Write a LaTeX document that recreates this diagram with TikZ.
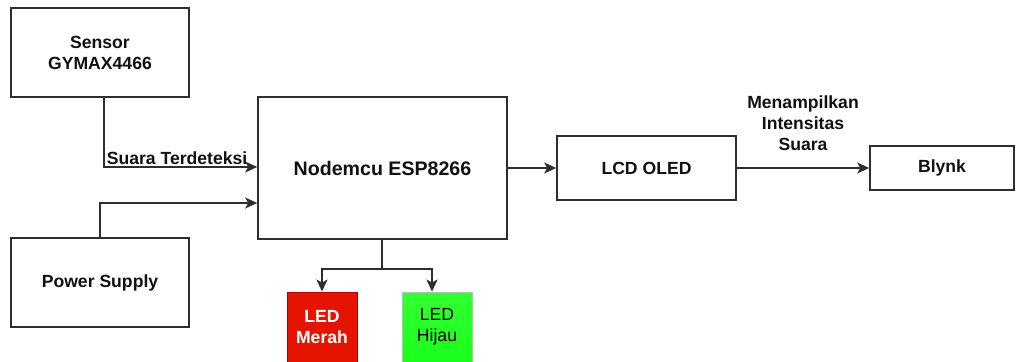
\documentclass[tikz,border=0pt]{standalone}
\usepackage{fontspec}
\setmainfont{Liberation Sans}
\usepackage{xcolor}
\usepackage{tikz}
\usetikzlibrary{positioning, arrows.meta, calc}
\definecolor{bdline}{HTML}{2E2E2E}
\definecolor{bdtext}{HTML}{111111}
\definecolor{ledred}{HTML}{E51400}
\definecolor{ledredrim}{HTML}{B20000}
\definecolor{ledgreen}{HTML}{1AFF1A}
\definecolor{ledgreentop}{HTML}{33FF33}
\definecolor{ledgreenrim}{HTML}{A8C8A8}

\begin{document}
\begin{tikzpicture}[x=1pt, y=-1pt,
  blockbox/.style={rectangle, draw=bdline, line width=1.6pt, fill=white,
                   inner sep=0pt, align=center, text=bdtext,
                   font=\fontsize{17.6}{21}\selectfont\bfseries},
  ledbox/.style={rectangle, line width=0.9pt, inner sep=0pt, align=center,
                 minimum width=70pt, minimum height=70pt,
                 font=\fontsize{17.6}{21}\selectfont},
  arrowstyle/.style={-{Stealth[length=12pt, width=11pt, inset=3pt]},
                     color=bdline, line width=1.6pt},
  linestyle/.style={color=bdline, line width=1.6pt},
  lbl/.style={text=bdtext, align=center, inner sep=2pt,
              font=\fontsize{17.6}{21}\selectfont\bfseries}
]
\useasboundingbox (0,0) rectangle (1016,361);

% blocks
\node[blockbox, minimum width=178pt, minimum height=89pt] (sensor) at (100,52.5)
  {Sensor\\GYMAX4466};
\node[blockbox, minimum width=178pt, minimum height=89pt] (power) at (100,282.5)
  {Power Supply};
\node[blockbox, minimum width=249pt, minimum height=142pt,
      font=\fontsize{19.6}{23}\selectfont\bfseries] (esp) at (382.5,168)
  {Nodemcu ESP8266};
\node[blockbox, minimum width=179pt, minimum height=64pt] (lcd) at (646.5,168)
  {LCD OLED};
\node[blockbox, minimum width=144pt, minimum height=44pt] (blynk) at (942,168)
  {Blynk};

% leds
\node[ledbox, draw=ledredrim, fill=ledred, text=white,
      font=\fontsize{17.6}{21}\selectfont\bfseries] (merah) at (322,327)
  {LED\\Merah};
\node[ledbox, draw=ledgreenrim, top color=ledgreentop, bottom color=ledgreen,
      text=black] (hijau) at (437,327)
  {LED\\Hijau};

% connectors
\draw[arrowstyle] ([xshift=4pt]sensor.south) |- ([yshift=1pt]esp.west)
  node[lbl, pos=0.5, above right] {Suara Terdeteksi};
\draw[arrowstyle] (power.north) |- ([yshift=-35pt]esp.west);
\draw[arrowstyle] (esp.east) -- (lcd.west);
\draw[arrowstyle] (lcd.east) -- (blynk.west)
  node[lbl, midway, above=15pt] {Menampilkan\\Intensitas\\Suara};

\coordinate (split) at ($(esp.south)+(-0.5,29)$);
\draw[linestyle] (split |- esp.south) -- (split);
\draw[arrowstyle] (split) -| (merah.north);
\draw[arrowstyle] (split) -| ([xshift=-5pt]hijau.north);
\end{tikzpicture}
\end{document}
